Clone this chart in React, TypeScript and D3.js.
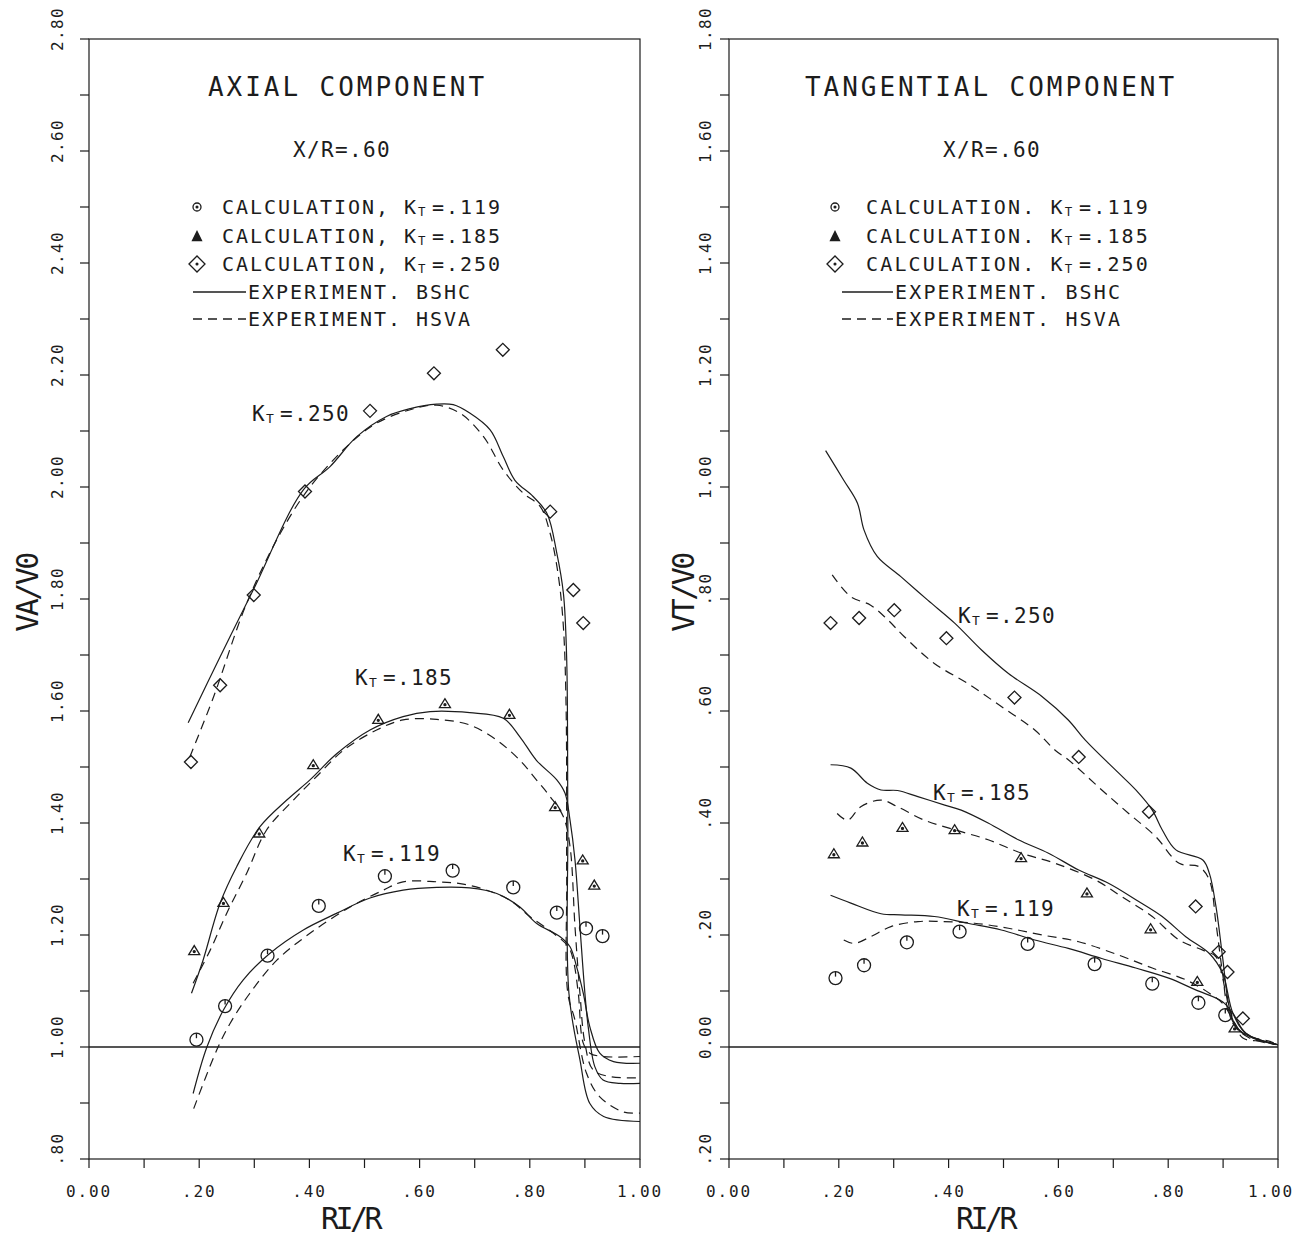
import React from "react";
import * as d3 from "d3";

type Pt = [number, number];

// ---- AXIAL COMPONENT (VA/V0 vs RI/R) ----
const axialCalc119: Pt[] = [[0.195, 1.013], [0.247, 1.073], [0.324, 1.163], [0.417, 1.252], [0.537, 1.305], [0.66, 1.315], [0.77, 1.285], [0.849, 1.24], [0.902, 1.212], [0.932, 1.198]];
const axialCalc185: Pt[] = [[0.191, 1.173], [0.244, 1.259], [0.309, 1.383], [0.407, 1.505], [0.525, 1.586], [0.646, 1.614], [0.763, 1.595], [0.846, 1.43], [0.896, 1.335], [0.917, 1.29]];
const axialCalc250: Pt[] = [[0.185, 1.509], [0.238, 1.646], [0.299, 1.807], [0.392, 1.992], [0.51, 2.136], [0.626, 2.203], [0.751, 2.245], [0.837, 1.956], [0.879, 1.816], [0.897, 1.757]];

const axialBshc119: Pt[] = [[0.189, 0.917], [0.214, 1.0], [0.244, 1.066], [0.28, 1.12], [0.328, 1.167], [0.389, 1.209], [0.45, 1.239], [0.51, 1.266], [0.57, 1.28], [0.631, 1.285], [0.691, 1.284], [0.74, 1.274], [0.782, 1.25], [0.812, 1.221], [0.855, 1.197], [0.873, 1.179], [0.885, 1.143], [0.897, 1.096], [0.909, 1.036], [0.927, 0.989], [0.952, 0.974], [1.0, 0.971]];
const axialHsva119: Pt[] = [[0.19, 0.89], [0.232, 0.995], [0.256, 1.042], [0.292, 1.096], [0.341, 1.155], [0.401, 1.203], [0.474, 1.25], [0.534, 1.28], [0.57, 1.295], [0.631, 1.295], [0.679, 1.291], [0.722, 1.28], [0.764, 1.262], [0.8, 1.233], [0.843, 1.203], [0.87, 1.179], [0.879, 1.155], [0.888, 1.096], [0.897, 1.007], [0.909, 0.989], [0.933, 0.983], [1.0, 0.983]];

const axialBshc185: Pt[] = [[0.186, 1.096], [0.207, 1.155], [0.238, 1.257], [0.268, 1.322], [0.31, 1.393], [0.359, 1.441], [0.401, 1.477], [0.45, 1.524], [0.51, 1.566], [0.57, 1.59], [0.619, 1.599], [0.691, 1.597], [0.752, 1.587], [0.782, 1.554], [0.812, 1.512], [0.849, 1.477], [0.864, 1.453], [0.873, 1.405], [0.882, 1.334], [0.891, 1.215], [0.9, 1.096], [0.906, 1.036], [0.918, 0.965], [0.933, 0.941], [0.964, 0.935], [1.0, 0.935]];
const axialHsva185: Pt[] = [[0.189, 1.114], [0.22, 1.173], [0.25, 1.239], [0.286, 1.31], [0.322, 1.387], [0.371, 1.441], [0.413, 1.483], [0.462, 1.53], [0.522, 1.566], [0.57, 1.584], [0.631, 1.585], [0.691, 1.575], [0.74, 1.548], [0.782, 1.512], [0.812, 1.477], [0.837, 1.447], [0.861, 1.411], [0.873, 1.358], [0.882, 1.215], [0.891, 1.096], [0.9, 1.007], [0.915, 0.959], [0.946, 0.947], [1.0, 0.945]];

const axialBshc250: Pt[] = [[0.18, 1.579], [0.238, 1.697], [0.298, 1.816], [0.389, 1.995], [0.437, 2.036], [0.486, 2.09], [0.54, 2.126], [0.583, 2.14], [0.631, 2.148], [0.661, 2.147], [0.691, 2.132], [0.728, 2.102], [0.752, 2.054], [0.773, 2.012], [0.806, 1.983], [0.831, 1.953], [0.849, 1.882], [0.861, 1.81], [0.867, 1.691], [0.869, 1.4], [0.871, 1.096], [0.891, 0.977], [0.909, 0.899], [0.934, 0.876], [1.0, 0.867]];
const axialHsva250: Pt[] = [[0.183, 1.518], [0.226, 1.625], [0.286, 1.792], [0.347, 1.917], [0.401, 2.0], [0.474, 2.078], [0.522, 2.114], [0.583, 2.138], [0.631, 2.146], [0.673, 2.132], [0.716, 2.09], [0.752, 2.03], [0.788, 1.989], [0.819, 1.965], [0.837, 1.917], [0.852, 1.84], [0.861, 1.75], [0.866, 1.6], [0.867, 1.3], [0.869, 1.096], [0.882, 1.048], [0.903, 0.953], [0.927, 0.911], [0.97, 0.884], [1.0, 0.882]];

// ---- TANGENTIAL COMPONENT (VT/V0 vs RI/R) ----
const tangCalc119: Pt[] = [[0.194, 0.123], [0.246, 0.146], [0.324, 0.187], [0.42, 0.206], [0.544, 0.184], [0.666, 0.148], [0.771, 0.113], [0.855, 0.079], [0.904, 0.057]];
const tangCalc185: Pt[] = [[0.191, 0.346], [0.243, 0.367], [0.316, 0.393], [0.411, 0.389], [0.532, 0.339], [0.652, 0.276], [0.768, 0.212], [0.853, 0.118], [0.921, 0.035]];
const tangCalc250: Pt[] = [[0.185, 0.757], [0.237, 0.766], [0.301, 0.78], [0.396, 0.73], [0.52, 0.624], [0.637, 0.518], [0.765, 0.42], [0.85, 0.251], [0.892, 0.17], [0.908, 0.134], [0.936, 0.051]];

const tangBshc119: Pt[] = [[0.185, 0.271], [0.222, 0.257], [0.277, 0.238], [0.313, 0.236], [0.374, 0.233], [0.435, 0.221], [0.496, 0.209], [0.557, 0.191], [0.618, 0.176], [0.679, 0.158], [0.741, 0.141], [0.801, 0.123], [0.85, 0.102], [0.899, 0.081], [0.918, 0.06], [0.942, 0.024], [1.0, 0.004]];
const tangHsva119: Pt[] = [[0.209, 0.191], [0.228, 0.185], [0.258, 0.197], [0.295, 0.215], [0.344, 0.224], [0.386, 0.224], [0.447, 0.221], [0.509, 0.212], [0.57, 0.2], [0.637, 0.188], [0.71, 0.164], [0.771, 0.141], [0.832, 0.12], [0.875, 0.096], [0.899, 0.078], [0.918, 0.048], [0.936, 0.016], [0.973, 0.01], [1.0, 0.004]];

const tangBshc185: Pt[] = [[0.185, 0.504], [0.222, 0.498], [0.252, 0.471], [0.277, 0.459], [0.307, 0.458], [0.344, 0.447], [0.393, 0.432], [0.423, 0.423], [0.472, 0.4], [0.527, 0.37], [0.582, 0.346], [0.637, 0.316], [0.692, 0.292], [0.741, 0.263], [0.789, 0.233], [0.832, 0.197], [0.875, 0.167], [0.899, 0.132], [0.918, 0.06], [0.942, 0.024], [1.0, 0.004]];
const tangHsva185: Pt[] = [[0.197, 0.417], [0.216, 0.405], [0.24, 0.429], [0.277, 0.441], [0.307, 0.429], [0.356, 0.405], [0.411, 0.388], [0.472, 0.37], [0.533, 0.346], [0.594, 0.328], [0.668, 0.298], [0.716, 0.268], [0.771, 0.233], [0.82, 0.191], [0.863, 0.173], [0.887, 0.161], [0.905, 0.096], [0.918, 0.042], [0.948, 0.016], [1.0, 0.004]];

const tangBshc250: Pt[] = [[0.176, 1.065], [0.209, 1.012], [0.234, 0.971], [0.246, 0.923], [0.27, 0.876], [0.313, 0.84], [0.362, 0.798], [0.411, 0.757], [0.46, 0.709], [0.509, 0.667], [0.57, 0.626], [0.618, 0.584], [0.649, 0.548], [0.71, 0.489], [0.741, 0.459], [0.771, 0.423], [0.789, 0.388], [0.814, 0.352], [0.863, 0.334], [0.875, 0.31], [0.887, 0.251], [0.899, 0.161], [0.911, 0.072], [0.924, 0.036], [0.954, 0.016], [1.0, 0.004]];
const tangHsva250: Pt[] = [[0.188, 0.843], [0.222, 0.804], [0.258, 0.789], [0.289, 0.763], [0.319, 0.733], [0.374, 0.685], [0.435, 0.649], [0.496, 0.608], [0.557, 0.566], [0.594, 0.53], [0.618, 0.513], [0.679, 0.459], [0.728, 0.417], [0.777, 0.376], [0.82, 0.328], [0.856, 0.322], [0.875, 0.298], [0.887, 0.221], [0.899, 0.132], [0.911, 0.06], [0.936, 0.024], [0.985, 0.01], [1.0, 0.004]];

// ---- tick labels / texts ----
const xTickLabels = ["0.00", ".20", ".40", ".60", ".80", "1.00"];
const axialYTickLabels = [".80", "1.00", "1.20", "1.40", "1.60", "1.80", "2.00", "2.20", "2.40", "2.60", "2.80"];
const tangYTickLabels = [".20", "0.00", ".20", ".40", ".60", ".80", "1.00", "1.20", "1.40", "1.60", "1.80"];
const ktValues = [".119", ".185", ".250"];
const experimentNames = ["BSHC", "HSVA"];

const FONT = "'DejaVu Sans Mono', 'Liberation Mono', monospace";
const INK = "#1c1c1c";
const PAGE_W = 1296;

// letter spacing so that each glyph takes `cell` px
const ls = (size: number, cell: number) => cell - 0.602 * size;

const Mono = ({ x, y, size, cell, children, anchor = "start", rotate = false }: any) => (
  <text
    x={rotate ? 0 : x}
    y={rotate ? 0 : y}
    transform={rotate ? `translate(${x},${y}) rotate(-90)` : undefined}
    fontFamily={FONT}
    fontSize={size}
    letterSpacing={ls(size, cell)}
    textAnchor={anchor}
    dominantBaseline={rotate ? "central" : undefined}
    fill={INK}
  >
    {children}
  </text>
);

// "KT=.xxx" with a small lowered T
const KLabel = ({ x, y, size, cell, value }: any) => {
  const small = size * 0.62;
  const spacing = ls(size, cell);
  return (
    <text x={x} y={y} fontFamily={FONT} fontSize={size} letterSpacing={spacing} fill={INK}>
      K
      <tspan fontSize={small} dy={2}>T</tspan>
      <tspan dy={-2} dx={cell - (0.602 * small + spacing)}>{"=" + value}</tspan>
    </text>
  );
};

const Marker = ({ kind, x, y, legend = false }: any) => {
  const sw = 1.3;
  if (kind === 0) {
    const r = legend ? 4 : 6.5;
    return (
      <g stroke={INK} strokeWidth={sw} fill="none">
        <circle cx={x} cy={y} r={r} />
        {legend ? <circle cx={x} cy={y} r={0.9} fill={INK} /> : <line x1={x} y1={y - r} x2={x} y2={y - 1.5} />}
      </g>
    );
  }
  if (kind === 1) {
    const h = 9;
    const w = legend ? 9 : 11;
    const pts = `${x - w / 2},${y + h / 2} ${x + w / 2},${y + h / 2} ${x},${y - h / 2}`;
    return (
      <g stroke={INK} strokeWidth={sw} fill={legend ? INK : "none"}>
        <polygon points={pts} />
        {!legend && <circle cx={x} cy={y + 1.5} r={1} fill={INK} />}
      </g>
    );
  }
  const d = legend ? 8 : 6.5;
  return (
    <g stroke={INK} strokeWidth={sw} fill="none">
      <polygon points={`${x - d},${y} ${x},${y - d} ${x + d},${y} ${x},${y + d}`} />
      {legend && <circle cx={x} cy={y} r={0.9} fill={INK} />}
    </g>
  );
};

const Y_TOP = 39;
const Y_BOT = 1159;

const Panel = ({ cfg }: any) => {
  const x = d3.scaleLinear().domain([0, 1]).range([cfg.x0, cfg.x1]);
  const y = d3.scaleLinear().domain(cfg.yDomain).range([Y_BOT, Y_TOP]);
  const line = d3
    .line<Pt>()
    .x((d) => x(d[0]))
    .y((d) => y(d[1]))
    .curve(d3.curveCatmullRom.alpha(0.5));

  const majorY = d3.range(11).map((i) => cfg.yDomain[0] + i * 0.2);
  const minorY = d3.range(21).map((i) => cfg.yDomain[0] + i * 0.1);
  const majorX = d3.range(6).map((i) => i * 0.2);
  const minorX = d3.range(11).map((i) => i * 0.1);
  const tick = 9;

  return (
    <g>
      {/* frame */}
      <rect x={cfg.x0} y={Y_TOP} width={cfg.x1 - cfg.x0} height={Y_BOT - Y_TOP} fill="none" stroke={INK} strokeWidth={1.2} />
      {/* reference line */}
      <line x1={x(0)} x2={x(1)} y1={y(cfg.refY)} y2={y(cfg.refY)} stroke={INK} strokeWidth={1.3} />

      {/* y ticks */}
      {minorY.map((v, i) => (
        <line key={"my" + i} x1={cfg.x0 - tick} x2={cfg.x0} y1={y(v)} y2={y(v)} stroke={INK} strokeWidth={1.2} />
      ))}
      {majorY.map((v, i) => (
        <Mono key={"ly" + i} x={cfg.yLabelX} y={y(v) - 10} size={16} cell={11} anchor="middle" rotate>
          {cfg.yTickLabels[i]}
        </Mono>
      ))}
      {/* x ticks */}
      {minorX.map((v, i) => (
        <line key={"mx" + i} x1={x(v)} x2={x(v)} y1={Y_BOT} y2={Y_BOT + tick} stroke={INK} strokeWidth={1.2} />
      ))}
      {majorX.map((v, i) => {
        const label = xTickLabels[i];
        const half = (label.length * 11.5) / 2;
        // keep the last label inside the page
        const cx = Math.min(x(v), PAGE_W - 2 - half);
        return (
          <Mono key={"lx" + i} x={cx} y={1197} size={16} cell={11.5} anchor="middle">
            {label}
          </Mono>
        );
      })}

      {/* axis titles */}
      <Mono x={cfg.yTitleX} y={593} size={30} cell={15.5} anchor="middle" rotate>
        {cfg.yTitle}
      </Mono>
      <Mono x={cfg.xTitleX} y={1229} size={30} cell={14.5} anchor="middle">
        RI/R
      </Mono>

      {/* experiment curves */}
      {cfg.bshc.map((s: Pt[], i: number) => (
        <path key={"b" + i} d={line(s) || ""} fill="none" stroke={INK} strokeWidth={1.2} />
      ))}
      {cfg.hsva.map((s: Pt[], i: number) => (
        <path key={"h" + i} d={line(s) || ""} fill="none" stroke={INK} strokeWidth={1.2} strokeDasharray="9,6" />
      ))}

      {/* calculation points */}
      {cfg.calc.map((s: Pt[], k: number) =>
        s.map((p, j) => <Marker key={`c${k}-${j}`} kind={k} x={x(p[0])} y={y(p[1])} />)
      )}

      {/* curve labels */}
      {cfg.curveLabels.map((c: any, i: number) => (
        <KLabel key={"kl" + i} x={c[0]} y={c[1]} size={21} cell={14} value={ktValues[i]} />
      ))}

      {/* titles */}
      <Mono x={cfg.titleX} y={96} size={26} cell={18.6}>
        {cfg.title}
      </Mono>
      <Mono x={cfg.xrX} y={157} size={21} cell={14}>
        X/R=.60
      </Mono>

      {/* legend */}
      {ktValues.map((v, i) => {
        const cy = [207, 236, 264][i];
        return (
          <g key={"lg" + i}>
            <Marker kind={i} x={cfg.legSymX} y={cy} legend />
            <text x={cfg.legTextX} y={cy + 7} fontFamily={FONT} fontSize={20} letterSpacing={ls(20, cfg.legCell)} fill={INK}>
              {"CALCULATION" + cfg.sep + " K"}
              <tspan fontSize={12.4} dy={2}>T</tspan>
              <tspan dy={-2} dx={cfg.legCell - (0.602 * 12.4 + ls(20, cfg.legCell))}>{"=" + v}</tspan>
            </text>
          </g>
        );
      })}
      {experimentNames.map((n, i) => {
        const cy = [292, 319][i];
        return (
          <g key={"le" + i}>
            <line x1={cfg.legLine[0]} x2={cfg.legLine[1]} y1={cy} y2={cy} stroke={INK} strokeWidth={1.3} strokeDasharray={i === 1 ? "9,6" : undefined} />
            <Mono x={cfg.legLine[1] + 2} y={cy + 7} size={20} cell={cfg.legCell}>
              {"EXPERIMENT. " + n}
            </Mono>
          </g>
        );
      })}
    </g>
  );
};

const axialCfg = {
  x0: 89,
  x1: 640,
  yDomain: [0.8, 2.8],
  refY: 1.0,
  yTickLabels: axialYTickLabels,
  yLabelX: 57,
  yTitleX: 27,
  yTitle: "VA/V0",
  xTitleX: 350,
  title: "AXIAL COMPONENT",
  titleX: 208,
  xrX: 293,
  legSymX: 197,
  legTextX: 222,
  legCell: 14,
  legLine: [193, 246],
  sep: ",",
  calc: [axialCalc119, axialCalc185, axialCalc250],
  bshc: [axialBshc119, axialBshc185, axialBshc250],
  hsva: [axialHsva119, axialHsva185, axialHsva250],
  curveLabels: [[343, 861], [355, 685], [252, 421]],
};

const tangCfg = {
  x0: 729,
  x1: 1278,
  yDomain: [-0.2, 1.8],
  refY: 0,
  yTickLabels: tangYTickLabels,
  yLabelX: 705,
  yTitleX: 683,
  yTitle: "VT/V0",
  xTitleX: 985,
  title: "TANGENTIAL COMPONENT",
  titleX: 805,
  xrX: 943,
  legSymX: 835,
  legTextX: 866,
  legCell: 14.2,
  legLine: [842, 893],
  sep: ".",
  calc: [tangCalc119, tangCalc185, tangCalc250],
  bshc: [tangBshc119, tangBshc185, tangBshc250],
  hsva: [tangHsva119, tangHsva185, tangHsva250],
  curveLabels: [[957, 916], [933, 800], [958, 623]],
};

export default function App() {
  return (
    <svg
      width={PAGE_W}
      height={1238}
      style={{ position: "absolute", left: 0, top: 0, background: "#fff" }}
    >
      <rect width={PAGE_W} height={1238} fill="#fff" />
      <Panel cfg={axialCfg} />
      <Panel cfg={tangCfg} />
    </svg>
  );
}
